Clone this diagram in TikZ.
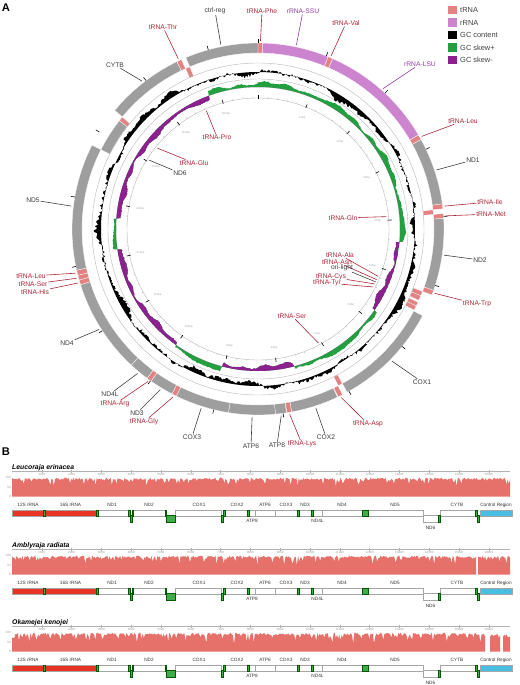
\documentclass[tikz,border=0pt]{standalone}
\usepackage{fontspec}
\setmainfont{Liberation Sans}
\usetikzlibrary{calc}

\definecolor{trnacol}{RGB}{226,130,130}
\definecolor{rrnacol}{RGB}{204,132,206}
\definecolor{genecol}{RGB}{158,158,158}
\definecolor{skewpos}{RGB}{34,160,64}
\definecolor{skewneg}{RGB}{140,32,142}
\definecolor{labred}{RGB}{172,36,52}
\definecolor{labpurple}{RGB}{146,62,160}
\definecolor{labgray}{RGB}{60,60,60}
\definecolor{covred}{RGB}{230,112,106}
\definecolor{rrnared}{RGB}{232,52,36}
\definecolor{trnagreen}{RGB}{64,172,72}
\definecolor{ctrlblue}{RGB}{72,190,226}

% one feature band of the circular map: colour, start kb, end kb, inner r, outer r
\newcommand{\ringseg}[5]{%
  \pgfmathsetmacro{\angA}{#2/16.72*360-90}%
  \pgfmathsetmacro{\angB}{#3/16.72*360-90}%
  \fill[#1, draw=white, line width=0.25pt] (\angA:#4) arc[start angle=\angA, end angle=\angB, radius=#4]
    -- (\angB:#5) arc[start angle=\angB, end angle=\angA, radius=#5] -- cycle;}

\begin{document}
\begin{tikzpicture}[x=0.85pt, y=-0.85pt,
    lbl/.style={font=\fontsize{5.7}{6.5}\selectfont, inner sep=0.6pt},
    leader/.style={line width=0.5pt},
    ringline/.style={draw=gray!55, line width=0.35pt},
    kbp/.style={font=\fontsize{2.4}{3}\selectfont, text=gray!70, inner sep=0pt},
    legbox/.style={minimum size=7.6pt, inner sep=0pt},
    legtxt/.style={font=\fontsize{6.3}{7}\selectfont, text=black!75, anchor=west, inner sep=0pt},
    panel/.style={font=\fontsize{9.5}{10}\selectfont\bfseries, inner sep=0pt},
    species/.style={font=\fontsize{5.8}{6.5}\selectfont\bfseries\itshape, anchor=west, inner sep=0pt},
    genelbl/.style={font=\fontsize{4}{4.5}\selectfont, text=black!80, inner sep=0pt},
    ticklbl/.style={font=\fontsize{2.6}{3}\selectfont, text=gray!80, inner sep=0pt},
    genebox/.style={draw=gray!70, line width=0.35pt},
    trnabar/.style={fill=trnagreen, draw=green!35!black, line width=0.25pt},
    declare function={
      gcdev(\c)=2.6*sin(2*\c+200)+2*sin(7*\c+10)+1.5*sin(19*\c)+1.2*sin(31*\c+40)+3.6*(rnd-0.5);
      skewsgn(\c)=((\c>95 && \c<125) || (\c>165 && \c<195) || (\c>215 && \c<262) || (\c>274 && \c<340)) ? -1 : 1;
      skewmag(\c)=3.2+1.4*sin(13*\c)+0.8*sin(37*\c)+0.5*sin(43*\c+30)+1.1*rnd;
    },
]
\useasboundingbox (0,0) rectangle (520,685);
\pgfmathsetseed{5}

% === Panel A: circular map ===
\node[panel] (pa) at (6,8) {A};
\coordinate (ctr) at (258,229);

\begin{scope}[shift={(258,229)}]
  % features, outer lane = + strand, inner lane = - strand
  \foreach \s/\e/\c/\ri/\ro in {
      0.001/0.07/trnacol/176/186, 0.07/1.03/rrnacol/176/186, 1.03/1.10/trnacol/176/186,
      1.10/2.77/rrnacol/176/186, 2.77/2.845/trnacol/176/186, 2.845/3.82/genecol/176/186,
      3.82/3.89/trnacol/176/186, 3.89/3.96/trnacol/166/176, 3.96/4.03/trnacol/176/186,
      4.03/5.075/genecol/176/186, 5.075/5.145/trnacol/176/186, 5.145/5.215/trnacol/166/176,
      5.215/5.29/trnacol/166/176, 5.32/5.385/trnacol/166/176, 5.385/5.455/trnacol/166/176,
      5.47/7.03/genecol/176/186, 7.03/7.10/trnacol/166/176, 7.105/7.175/trnacol/176/186,
      7.185/7.875/genecol/176/186, 7.875/7.945/trnacol/176/186, 7.95/8.11/genecol/176/186,
      8.11/8.785/genecol/176/186, 8.785/9.57/genecol/176/186, 9.57/9.64/trnacol/176/186,
      9.64/9.99/genecol/176/186, 9.99/10.06/trnacol/176/186, 10.06/10.355/genecol/176/186,
      10.355/11.73/genecol/176/186, 11.73/11.80/trnacol/176/186, 11.80/11.87/trnacol/176/186,
      11.87/11.945/trnacol/176/186, 11.945/13.785/genecol/176/186, 13.785/14.305/genecol/166/176,
      14.305/14.375/trnacol/166/176, 14.38/15.52/genecol/176/186, 15.52/15.59/trnacol/176/186,
      15.59/15.66/trnacol/166/176, 15.66/16.72/genecol/176/186}
    {\ringseg{\c}{\s}{\e}{\ri}{\ro}}

  \draw[ringline] (0,0) circle[radius=166];
  \draw[ringline] (0,0) circle[radius=150];
  \draw[ringline] (0,0) circle[radius=131];

  % GC content
  \fill[black, even odd rule] plot[domain=0:360, samples=721] ({\x-90}:{157+gcdev(\x)}) -- cycle
    (0,0) circle[radius=157];

  % GC skew: green outward, purple inward
  \pgfmathsetseed{9}
  \fill[skewpos, even odd rule] plot[domain=0:360, samples=721] ({\x-90}:{142+skewsgn(\x)*skewmag(\x)}) -- cycle
    (0,0) circle[radius=142];
  \begin{scope}
    \clip (0,0) circle[radius=142];
    \pgfmathsetseed{9}
    \fill[skewneg, even odd rule] plot[domain=0:360, samples=721] ({\x-90}:{142+skewsgn(\x)*skewmag(\x)}) -- cycle
      (0,0) circle[radius=142];
  \end{scope}

  % scale
  \foreach \m in {0,...,83}
    \draw[gray!60, line width=0.25pt] ({\m*4.3062-90}:131) -- ({\m*4.3062-90}:132.6);
  \foreach \k in {0,...,16} {
    \draw[black, line width=0.5pt] ({\k*21.531-90}:186) -- ({\k*21.531-90}:190);
    \draw[black, line width=0.5pt] ({\k*21.531-90}:130) -- ({\k*21.531-90}:134);
  }
  \foreach \k in {1,...,16}
    \node[kbp] (kb-\k) at ({\k*21.531-90}:120) {\k\,kbp};
\end{scope}

% labels and leader lines
\foreach \nm/\txt/\col/\px/\py/\ang/\rad in {
    ctrl/ctrl-reg/labgray/215/11/348.6/188, phe/tRNA-Phe/labred/262/11/0.75/188,
    ssu/rRNA-SSU/labpurple/303/11/11.8/188, val/tRNA-Val/labred/346/23/22.9/188,
    lsu/rRNA-LSU/labpurple/420/64/41.7/188, leua/tRNA-Leu/labred/463/121/60.5/188,
    nda/ND1/labgray/473/160/71.7/188, ile/tRNA-Ile/labred/490/202/83.0/188,
    met/tRNA-Met/labred/491/214/86.0/188, ndb/ND2/labgray/480/260/98.0/188,
    trp/tRNA-Trp/labred/477/304/110.0/188, coxa/COX1/labgray/422/382/134.6/188,
    asp/tRNA-Asp/labred/368/424/153.7/188, coxb/COX2/labgray/326/437/162.1/188,
    lys/tRNA-Lys/labred/302/444/170.3/188, atpe/ATP8/labgray/277/445/172.9/188,
    atps/ATP6/labgray/251/446/181.8/188, coxc/COX3/labgray/192/437/197.6/188,
    gly/tRNA-Gly/labred/144/422/206.8/188, ndc/ND3/labgray/137/413/211.3/188,
    arg/tRNA-Arg/labred/115/404/215.8/188, ndl/ND4L/labgray/110/394/219.8/188,
    ndd/ND4/labgray/67/343/237.7/188, his/tRNA-His/labred/35/292/253.3/188,
    serb/tRNA-Ser/labred/33/284/254.8/188, leub/tRNA-Leu/labred/31/276/256.4/188,
    nde/ND5/labgray/33/200/277.0/188, cytb/CYTB/labgray/115/65/321.9/188,
    thr/tRNA-Thr/labred/163/27/334.9/188,
    pro/tRNA-Pro/labred/217/137/336.4/129, glu/tRNA-Glu/labred/194/163/308.8/129,
    ndf/ND6/labgray/180/173/302.3/129, gln/tRNA-Gln/labred/343/218/84.5/129,
    ala/tRNA-Ala/labred/340/255/111.5/129, asn/tRNA-Asn/labred/337/262/113.1/129,
    ori/ori-light/labgray/342/268/114.2/129, cys/tRNA-Cys/labred/331/277/115.2/129,
    tyr/tRNA-Tyr/labred/327/283/116.7/129, sera/tRNA-Ser/labred/292/316/152.1/129}
{
  \node[lbl, text=\col] (l-\nm) at (\px,\py) {\txt};
  \coordinate (p-\nm) at ($(ctr)+({\ang-90}:\rad)$);
  \draw[leader, \col] (l-\nm) -- (p-\nm);
}

% legend
\foreach \i/\c/\t in {0/trnacol/tRNA, 1/rrnacol/rRNA, 2/black/GC content, 3/skewpos/GC skew+, 4/skewneg/GC skew-} {
  \node[legbox, fill=\c] (leg-\i) at (452.5,{10+12.5*\i}) {};
  \node[legtxt] (legt-\i) at (460,{10+12.5*\i}) {\t};
}

% === Panel B: coverage tracks ===
\node[panel] (pb) at (6,452) {B};

\foreach \base/\sp in {468/Leucoraja erinacea, 546/Amblyraja radiata, 623/Okamejei kenojei} {
  \begin{scope}[shift={(0,\base)}]
    \node[species] (sp-\base) at (12,0) {\sp};
    \draw[gray!60, line width=0.3pt] (12,3.5) -- (510,3.5);
    \foreach \k in {1,...,16} {
      \draw[gray!60, line width=0.3pt] ({12+29.8*\k},2.3) -- ({12+29.8*\k},4.7);
      \node[ticklbl] (rl-\base-\k) at ({12+29.8*\k},6.2) {\k000};
    }
    \node[ticklbl, anchor=east] (ya-\base) at (11,9.5) {100};
    \node[ticklbl, anchor=east] (yb-\base) at (11,19) {50};
    \node[ticklbl, anchor=east] (yc-\base) at (11,28.3) {0};

    % gene map
    \foreach \a/\b in {98/128, 133.5/165, 175/221, 225.5/247, 249/255, 255/275, 275/297,
                       299/311, 313/322, 322/362, 368/423, 440/475}
      \filldraw[genebox, fill=white] (\a,42) rectangle (\b,48);
    \filldraw[genebox, fill=white] (423,47) rectangle (438,54);
    \filldraw[genebox, fill=rrnared] (12,42) rectangle (43,48);
    \filldraw[genebox, fill=rrnared] (45,42) rectangle (96,48);
    \filldraw[genebox, fill=ctrlblue] (480,42) rectangle (512,48);
    \foreach \a/\b in {43/45, 96/98, 128/130, 132/133.5, 165/166.5, 223.5/225.5, 247/249,
                       297/299, 311/313, 362/368, 475/477}
      \filldraw[trnabar] (\a,42) rectangle (\b,48);
    \foreach \a/\b in {130/132, 166.5/175, 221/223, 438/440, 477/479}
      \filldraw[trnabar] (\a,47) rectangle (\b,54);

    \foreach \x/\t in {28/12S rRNA, 70.5/16S rRNA, 112/ND1, 149/ND2, 199/COX1, 237/COX2,
                       265/ATP6, 286/COX3, 305/ND3, 342/ND4, 395/ND5, 457/CYTB, 496/Control Region}
      \node[genelbl] (g-\base-\x) at (\x,37) {\t};
    \node[genelbl] (ga-\base) at (252,52.5) {ATP8};
    \node[genelbl] (gb-\base) at (317.5,52.5) {ND4L};
    \node[genelbl] (gc-\base) at (430.5,59.5) {ND6};
  \end{scope}
}

% coverage profiles
\begin{scope}[shift={(0,468)}]
  \fill[covred] (12,28.5) -- plot[domain=12:510, samples=430] (\x,{9.6+2.2*rnd+8*rnd^8}) -- (510,28.5) -- cycle;
\end{scope}
\begin{scope}[shift={(0,546)}]
  \fill[covred] (12,28.5) -- plot[domain=12:476, samples=400] (\x,{9.6+2.2*rnd+8*rnd^8}) -- (476,28.5) -- cycle;
  \fill[covred] (478,28.5) -- plot[domain=478:510, samples=28] (\x,{9.6+2.2*rnd+8*rnd^8}) -- (510,28.5) -- cycle;
\end{scope}
\begin{scope}[shift={(0,623)}]
  \fill[covred] (12,28.5) -- plot[domain=12:485, samples=410] (\x,{9.6+2.6*rnd+9*rnd^7}) -- (485,28.5) -- cycle;
  \fill[covred] (490,28.5) -- plot[domain=490:500, samples=10] (\x,{11+4*rnd}) -- (500,28.5) -- cycle;
  \fill[covred] (503,28.5) -- plot[domain=503:510, samples=7] (\x,{11+4*rnd}) -- (510,28.5) -- cycle;
\end{scope}
\end{tikzpicture}
\end{document}
